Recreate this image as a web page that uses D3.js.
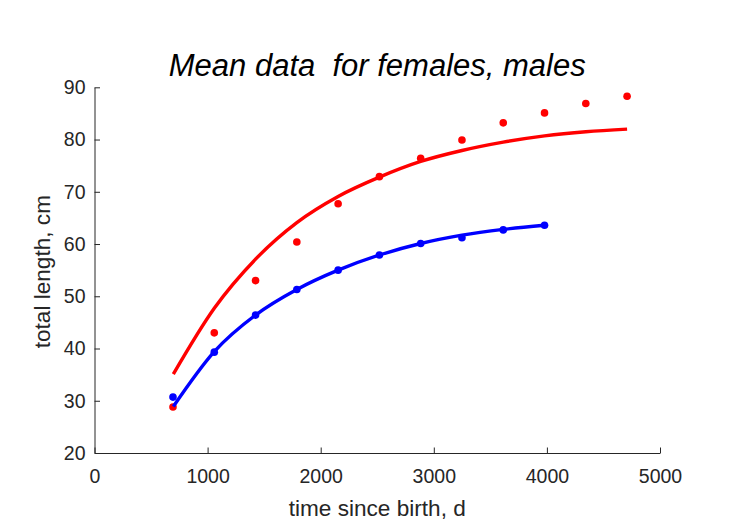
<!DOCTYPE html>
<html>
<head>
<meta charset="utf-8">
<script src="https://cdn.jsdelivr.net/npm/d3@7"></script>
<style>
  html, body { margin: 0; padding: 0; background: #fff; }
  svg { display: block; font-family: "Liberation Sans", Arial, Helvetica, sans-serif; }
</style>
</head>
<body>
<svg id="chart" width="729" height="521"></svg>
<script>
// ---- data ----
const femaleAge = [694, 1059, 1424, 1789, 2154, 2519, 2884, 3249, 3614, 3979, 4344, 4709];
const femaleLength = [28.8, 43.0, 53.0, 60.4, 67.7, 72.9, 76.4, 79.9, 83.2, 85.1, 86.9, 88.3];
const femaleFitAge = [697, 1059, 1424, 1789, 2154, 2519, 2884, 3249, 3614, 3979, 4344, 4709];
const femaleFit = [35.1, 47.7, 57.1, 64.1, 69.1, 72.8, 75.8, 77.9, 79.5, 80.7, 81.5, 82.0];

const maleAge = [694, 1059, 1424, 1789, 2154, 2519, 2884, 3249, 3614, 3979];
const maleLength = [30.7, 39.3, 46.4, 51.3, 55.0, 57.9, 60.1, 61.2, 62.7, 63.6];
const maleFitAge = [697, 1059, 1424, 1789, 2154, 2519, 2884, 3249, 3614, 3979];
const maleFit = [28.9, 39.4, 46.4, 51.3, 55.0, 57.9, 60.1, 61.7, 62.8, 63.6];

const xTicks = [0, 1000, 2000, 3000, 4000, 5000];
const yTicks = [20, 30, 40, 50, 60, 70, 80, 90];

const titleText = "Mean data\u00a0\u00a0for females, males";
const xLabel = "time since birth, d";
const yLabel = "total length, cm";

// ---- layout ----
(function () {
const svg = d3.select("#chart");
const mLeft = 94.5, mRight = 660, mTop = 87.3, mBottom = 453;
const axisColor = "#262626";

const x = d3.scaleLinear().domain([0, 5000]).range([mLeft, mRight]);
const y = d3.scaleLinear().domain([20, 90]).range([mBottom, mTop]);

// axes
const xAxis = d3.axisBottom(x).tickValues(xTicks).tickFormat(d3.format("d"))
  .tickSizeInner(-5.5).tickSizeOuter(0).tickPadding(16);
const yAxis = d3.axisLeft(y).tickValues(yTicks).tickFormat(d3.format("d"))
  .tickSizeInner(-5.5).tickSizeOuter(0).tickPadding(9);

const gx = svg.append("g").attr("transform", `translate(0,${mBottom})`).call(xAxis);
const gy = svg.append("g").attr("transform", `translate(${mLeft},0)`).call(yAxis);
[gx, gy].forEach(g => {
  g.select(".domain").attr("stroke", axisColor).attr("stroke-width", 1);
  g.selectAll(".tick line").attr("stroke", axisColor).attr("stroke-width", 1);
  g.selectAll(".tick text").attr("fill", axisColor)
    .style("font-size", "19.5px")
    .style("font-family", "'Liberation Sans', Arial, Helvetica, sans-serif");
});

// series
function series(ages, vals) { return ages.map((a, i) => [a, vals[i]]); }
const line = d3.line().x(d => x(d[0])).y(d => y(d[1])).curve(d3.curveMonotoneX);

function drawPoints(data, color) {
  svg.append("g").selectAll("circle").data(data).join("circle")
    .attr("cx", d => x(d[0])).attr("cy", d => y(d[1])).attr("r", 3.8)
    .attr("fill", color);
}
function drawLine(data, color) {
  svg.append("path").datum(data).attr("d", line)
    .attr("fill", "none").attr("stroke", color).attr("stroke-width", 3.4)
    .attr("stroke-linecap", "butt").attr("stroke-linejoin", "round");
}

drawPoints(series(femaleAge, femaleLength), "#ff0000");
drawLine(series(femaleFitAge, femaleFit), "#ff0000");
drawPoints(series(maleAge, maleLength), "#0000ff");
drawLine(series(maleFitAge, maleFit), "#0000ff");

// title & labels
svg.append("text").attr("x", (mLeft + mRight) / 2).attr("y", 76)
  .attr("text-anchor", "middle").attr("fill", "#000")
  .style("font-size", "31px").style("font-style", "italic")
  .text(titleText);

svg.append("text").attr("x", (mLeft + mRight) / 2).attr("y", 515.5)
  .attr("text-anchor", "middle").attr("fill", axisColor)
  .style("font-size", "22.6px").text(xLabel);

svg.append("text").attr("transform", `translate(50,${(mTop + mBottom) / 2 + 1.5}) rotate(-90)`)
  .attr("text-anchor", "middle").attr("fill", axisColor)
  .style("font-size", "22.6px").text(yLabel);
})();
</script>
</body>
</html>
